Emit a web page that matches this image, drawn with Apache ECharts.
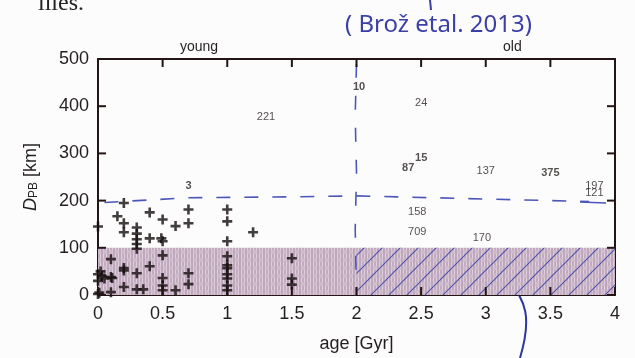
<!DOCTYPE html>
<html>
<head>
<meta charset="utf-8">
<script src="https://cdn.jsdelivr.net/npm/echarts@6/dist/echarts.min.js"></script>
<style>
  html, body { margin: 0; padding: 0; background: #fdfcfc; }
  #chart { width: 635px; height: 358px; }
</style>
</head>
<body>
<div id="chart"></div>
<script>
// pair-breakup diameter vs age (scanned figure)

// "+" points
const plusAge = [0.0, 0.2, 0.15, 0.2, 0.2, 0.3, 0.3, 0.3, 0.3, 0.3, 0.4, 0.4, 0.49, 0.5, 0.5, 0.6, 0.7, 0.7, 1.0, 1.0, 1.0, 1.2,
  0.1, 0.0, 0.03, 0.05, 0.1, 0.1, 0.2, 0.2, 0.2, 0.3, 0.3, 0.35, 0.4, 0.5, 0.5, 0.5, 0.5, 0.6, 0.7, 0.7,
  1.0, 1.0, 1.0, 1.0, 1.0, 1.0, 1.0, 1.5, 1.5, 1.5, 0.0, 0.01, 0.0, 0.02, 0.11];
const plusD = [145, 195, 167, 152, 133, 143, 130, 118, 108, 98, 175, 120, 120, 114, 160, 146, 181, 152, 181, 156, 114, 133,
  76, 44, 40, 35, 38, 6, 57, 52, 17, 46, 12, 12, 61, 84, 36, 20, 10, 10, 46, 23,
  82, 63, 57, 44, 35, 20, 10, 78, 35, 22, 2, 5, 30, 50, 36];

// family number labels
const lblText = ['3', '221', '10', '24', '87', '15', '137', '375', '197', '121', '158', '709', '170'];
const lblAge = [0.7, 1.3, 2.02, 2.5, 2.4, 2.5, 3.0, 3.5, 3.84, 3.84, 2.47, 2.47, 2.97];
const lblD = [232, 378, 441, 407, 270, 291, 262, 259, 230, 217, 175, 133, 120];
const lblBold = [true, false, true, false, true, true, false, true, false, false, false, false, false];

// hand-drawn dashed lines
const hLineAge = [0.05, 0.7, 1.5, 2.0, 2.6, 3.2, 3.8];
const hLineD = [196, 206, 208, 210, 206, 202, 198];
const vLineAge = [2.0, 1.99, 2.0, 1.99, 2.0];
const vLineD = [490, 380, 260, 140, 0];

// axes
const xTicks = [0, 0.5, 1, 1.5, 2, 2.5, 3, 3.5, 4];
const yTicks = [0, 100, 200, 300, 400, 500];

function makePattern(draw, w, h) {
  const c = document.createElement('canvas');
  c.width = w; c.height = h;
  draw(c.getContext('2d'));
  return { image: c, repeat: 'repeat' };
}

const shade = makePattern(function (ctx) {
  ctx.fillStyle = '#bfa7bd';
  ctx.fillRect(0, 0, 6, 8);
  ctx.strokeStyle = '#e2d5e0';
  ctx.lineWidth = 1;
  ctx.beginPath();
  ctx.moveTo(1.5, 0); ctx.lineTo(2, 4); ctx.lineTo(1.5, 8);
  ctx.moveTo(4.5, 0); ctx.lineTo(4, 4); ctx.lineTo(4.5, 8);
  ctx.stroke();
}, 6, 8);

const hatch = makePattern(function (ctx) {
  ctx.strokeStyle = 'rgba(55,62,165,0.8)';
  ctx.lineWidth = 1.2;
  ctx.beginPath();
  ctx.moveTo(0, 18); ctx.lineTo(18, 0);
  ctx.moveTo(-9, 9); ctx.lineTo(9, -9);
  ctx.moveTo(9, 27); ctx.lineTo(27, 9);
  ctx.stroke();
}, 18, 18);

const axisCol = '#231515';
const txtCol = '#241f1f';
const blue = '#4b57b8';

const chart = echarts.init(document.getElementById('chart'));

const plusPath = 'path://M3.7,0H6.3V3.7H10V6.3H6.3V10H3.7V6.3H0V3.7H3.7Z';

function axLine() { return { show: true, onZero: false, lineStyle: { color: axisCol, width: 2 } }; }

const TL = 8; // tick length, px
function tickLine(a, b) {
  return { type: 'line', shape: { x1: a[0], y1: a[1], x2: b[0], y2: b[1] },
    style: { stroke: axisCol, lineWidth: 2 } };
}

chart.setOption({
  backgroundColor: '#fdfcfc',
  animation: false,
  grid: { left: 98, right: 20, top: 59, bottom: 62 },
  xAxis: [{
    type: 'value', min: 0, max: 4, interval: 0.5,
    name: 'age [Gyr]', nameLocation: 'middle', nameGap: 40,
    nameTextStyle: { fontSize: 18, color: txtCol, fontFamily: 'Liberation Sans' },
    axisLine: axLine(),
    axisTick: { show: false },
    axisLabel: { fontSize: 18, color: txtCol, margin: 10, fontFamily: 'Liberation Sans',
      formatter: function (v) { return xTicks.indexOf(v) >= 0 ? String(v) : ''; } },
    splitLine: { show: false }
  }, {
    type: 'value', min: 0, max: 4, interval: 0.5, position: 'top',
    axisLine: axLine(), axisTick: { show: false },
    axisLabel: { show: false }, splitLine: { show: false }
  }],
  yAxis: [{
    type: 'value', min: 0, max: 500, interval: 100,
    name: '{i|D}{s|PB} [km]', nameLocation: 'middle', nameGap: 58, nameRotate: 90,
    nameTextStyle: { fontSize: 18, color: txtCol, fontFamily: 'Liberation Sans',
      rich: { i: { fontSize: 18, fontStyle: 'italic', color: txtCol, fontFamily: 'Liberation Sans' },
              s: { fontSize: 12, color: txtCol, verticalAlign: 'bottom', fontFamily: 'Liberation Sans' } } },
    axisLine: axLine(), axisTick: { show: false },
    axisLabel: { fontSize: 18, color: txtCol, margin: 9, fontFamily: 'Liberation Sans',
      formatter: function (v) { return yTicks.indexOf(v) >= 0 ? String(v) : ''; } },
    splitLine: { show: false }
  }, {
    type: 'value', min: 0, max: 500, interval: 100, position: 'right',
    axisLine: axLine(), axisTick: { show: false },
    axisLabel: { show: false }, splitLine: { show: false }
  }],
  series: [{
    type: 'line', data: [], silent: true,
    markArea: {
      silent: true,
      data: [
        [{ coord: [0, 0], itemStyle: { color: shade, opacity: 1 } }, { coord: [4, 100] }],
        [{ coord: [2, 0], itemStyle: { color: hatch, opacity: 1 } }, { coord: [4, 100] }]
      ]
    }
  }, {
    type: 'line', silent: true, symbol: 'none',
    data: hLineAge.map(function (a, i) { return [a, hLineD[i]]; }),
    lineStyle: { color: blue, width: 1.6, type: [14, 14] }
  }, {
    type: 'line', silent: true, symbol: 'none',
    data: vLineAge.map(function (a, i) { return [a, vLineD[i]]; }),
    lineStyle: { color: blue, width: 1.6, type: [14, 18] }
  }, {
    type: 'scatter', silent: true, symbol: plusPath, symbolSize: 10,
    itemStyle: { color: '#140e0e' },
    data: plusAge.map(function (a, i) { return [a, plusD[i]]; })
  }, {
    type: 'scatter', silent: true, symbolSize: 0,
    data: lblAge.map(function (a, i) {
      return { value: [a, lblD[i]], name: lblText[i],
        label: { fontWeight: lblBold[i] ? 'bold' : 'normal' } };
    }),
    label: { show: true, position: 'inside', formatter: '{b}', fontSize: 11,
      color: '#2a2424', fontFamily: 'Liberation Sans' }
  }, {
    // inward ticks on bottom and top (gnuplot box style)
    type: 'custom', silent: true, z: 10, clip: false,
    data: xTicks.map(function (v) { return [v, 0]; }),
    renderItem: function (params, api) {
      const b = api.coord([api.value(0), 0]);
      const t = api.coord([api.value(0), 500]);
      return { type: 'group', children: [
        tickLine(b, [b[0], b[1] - TL]),
        tickLine(t, [t[0], t[1] + TL])
      ] };
    }
  }, {
    // inward ticks on left and right
    type: 'custom', silent: true, z: 10, clip: false,
    data: yTicks.map(function (v) { return [0, v]; }),
    renderItem: function (params, api) {
      const l = api.coord([0, api.value(1)]);
      const r = api.coord([4, api.value(1)]);
      return { type: 'group', children: [
        tickLine(l, [l[0] + TL, l[1]]),
        tickLine(r, [r[0] - TL, r[1]])
      ] };
    }
  }],
  graphic: [
    { type: 'text', left: 38, top: -8, style: { text: 'ilies.', font: '24px "Liberation Serif"', fill: '#222' } },
    { type: 'text', left: 345, top: 13, style: { text: '( Brož etal. 2013)', font: '24px "Noto Sans"', fill: '#3b3fa6' } },
    { type: 'line', shape: { x1: 430, y1: 0, x2: 431, y2: 10 }, style: { stroke: '#3b3fa6', lineWidth: 2 } },
    { type: 'text', left: 180, top: 40, style: { text: 'young', font: '14px "Liberation Sans"', fill: txtCol } },
    { type: 'text', left: 503, top: 40, style: { text: 'old', font: '14px "Liberation Sans"', fill: txtCol } },
    { type: 'bezierCurve', shape: { x1: 520, y1: 358, cpx1: 532, cpy1: 318, x2: 508, y2: 280, cpx2: 526, cpy2: 300 },
      style: { stroke: '#2f35a0', lineWidth: 2, fill: null } },
    { type: 'polyline', shape: { points: [[500, 290], [507, 279], [519, 284]] },
      style: { stroke: '#2f35a0', lineWidth: 2, fill: null } },
    { type: 'line', shape: { x1: 580, y1: 202, x2: 606, y2: 203 }, style: { stroke: blue, lineWidth: 1.5 } }
  ]
});
</script>
</body>
</html>
